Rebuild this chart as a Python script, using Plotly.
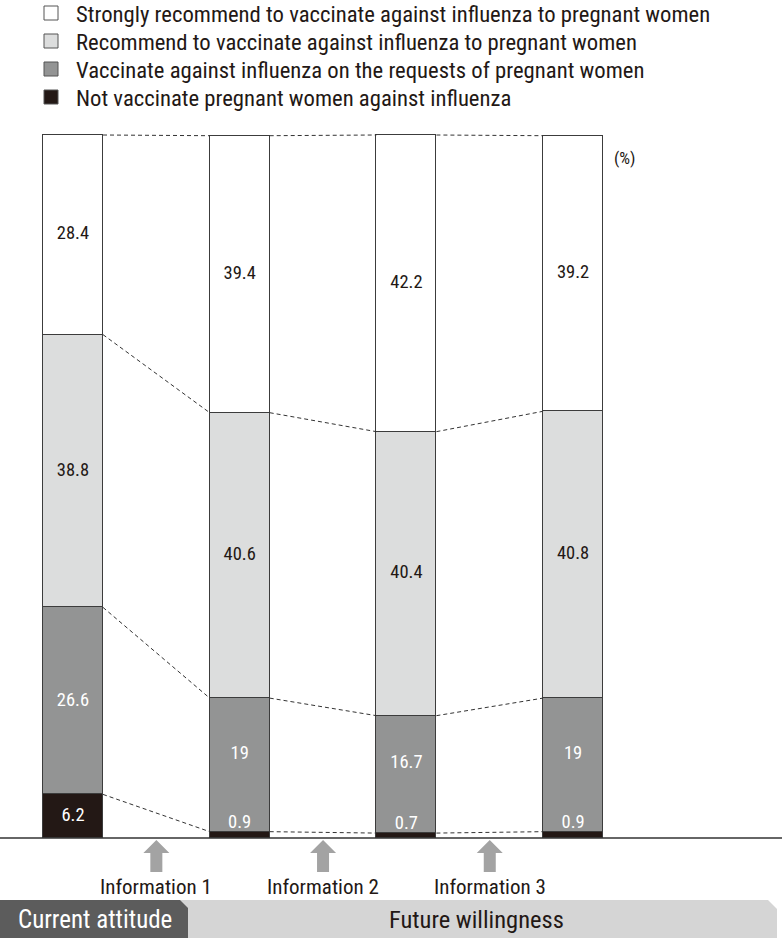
import plotly.graph_objects as go

# ---------------- data ----------------
bar_names = ["Current attitude", "After information 1", "After information 2", "After information 3"]
series_names = [
    "Not vaccinate pregnant women against influenza",
    "Vaccinate against influenza on the requests of pregnant women",
    "Recommend to vaccinate against influenza to pregnant women",
    "Strongly recommend to vaccinate against influenza to pregnant women",
]
not_vaccinate = [6.2, 0.9, 0.7, 0.9]
on_request = [26.6, 19, 16.7, 19]
recommend = [38.8, 40.6, 40.4, 40.8]
strongly = [28.4, 39.4, 42.2, 39.2]
info_labels = ["Information 1", "Information 2", "Information 3"]
stage_labels = ["Current attitude", "Future willingness"]
unit_label = "(%)"

# ---------------- style ----------------
W, H = 782, 938
FONT = "Liberation Sans Narrow, Roboto Condensed, DejaVu Sans Condensed, Arial Narrow, sans-serif"
colors = ["#231815", "#939494", "#dcdddd", "#ffffff"]
text_colors = ["#ffffff", "#ffffff", "#231815", "#231815"]
outline = "#3c3c3c"
BAR_W = 0.36
px_per_unit = 166.7
x0_px = 73
base_px = 838
top_px = 135
px_per_pct = (base_px - top_px) / 100.0

x_range = [-x0_px / px_per_unit, (W - x0_px) / px_per_unit]
y_range = [-(H - base_px) / px_per_pct, base_px / px_per_pct]

def pxx(p):
    return p / W

def pxy(p):
    return 1 - p / H

series = [not_vaccinate, on_request, recommend, strongly]
xs = list(range(len(bar_names)))

fig = go.Figure()
for name, vals, col in zip(series_names, series, colors):
    fig.add_trace(go.Bar(
        x=xs, y=vals, name=name, width=BAR_W,
        marker=dict(color=col, line=dict(color=outline, width=1)),
        hoverinfo="skip", showlegend=False,
    ))

# cumulative levels
cums = []
for i in xs:
    c = [0]
    for s in series:
        c.append(c[-1] + s[i])
    cums.append(c)

# dashed connectors between neighbouring bars
for i in range(len(xs) - 1):
    for k in range(1, len(series) + 1):
        fig.add_trace(go.Scatter(
            x=[xs[i] + BAR_W / 2, xs[i + 1] - BAR_W / 2],
            y=[cums[i][k], cums[i + 1][k]],
            mode="lines", line=dict(color="#333333", width=1, dash="4px,3px"),
            hoverinfo="skip", showlegend=False,
        ))

# value labels
for k, s in enumerate(series):
    lx, ly, lt = [], [], []
    for i in xs:
        v = s[i]
        bottom = cums[i][k]
        top = cums[i][k + 1]
        if v < 3:
            y = bottom + v + 1.2
        elif k > 0 and series[k - 1][i] < 3:
            y = (bottom + 3 + top) / 2
        else:
            y = (bottom + top) / 2
        lx.append(i)
        ly.append(y)
        lt.append(f"{v:g}")
    fig.add_trace(go.Scatter(
        x=lx, y=ly, text=lt, mode="text",
        textfont=dict(family=FONT, size=18.5, color=text_colors[k]),
        hoverinfo="skip", showlegend=False,
    ))

shapes = []
annotations = []

# baseline
shapes.append(dict(type="line", xref="paper", yref="y", x0=0, x1=1, y0=0, y1=0,
                   line=dict(color="#333333", width=1.5)))

# arrows + information labels
for j, lab in enumerate(info_labels):
    cx = xs[j] + 0.5
    hw = 13 / px_per_unit
    sw = 6 / px_per_unit
    y_tip = -2 / px_per_pct
    y_neck = -15 / px_per_pct
    y_end = -34 / px_per_pct
    path = (f"M {cx-hw} {y_neck} L {cx} {y_tip} L {cx+hw} {y_neck} L {cx+sw} {y_neck} "
            f"L {cx+sw} {y_end} L {cx-sw} {y_end} L {cx-sw} {y_neck} Z")
    shapes.append(dict(type="path", xref="x", yref="y", path=path,
                       fillcolor="#a3a3a3", line=dict(width=0)))
    annotations.append(dict(x=cx, y=-49 / px_per_pct, xref="x", yref="y", text=lab,
                            showarrow=False, font=dict(family=FONT, size=21, color="#231815"),
                            xanchor="center", yanchor="middle"))

# stage banners
light = [(180, 900), (768, 900), (777, 909), (777, 938), (180, 938)]
dark = [(0, 900), (180, 900), (188, 908), (188, 938), (0, 938)]
for poly, col in [(light, "#d5d5d5"), (dark, "#5c5c5c")]:
    path = "M " + " L ".join(f"{pxx(a)} {pxy(b)}" for a, b in poly) + " Z"
    shapes.append(dict(type="path", xref="paper", yref="paper", path=path,
                       fillcolor=col, line=dict(width=0)))
annotations.append(dict(x=pxx(95), y=pxy(919), xref="paper", yref="paper", text=stage_labels[0],
                        showarrow=False, font=dict(family=FONT, size=25, color="#ffffff"),
                        xanchor="center", yanchor="middle"))
annotations.append(dict(x=pxx(476), y=pxy(919), xref="paper", yref="paper", text=stage_labels[1],
                        showarrow=False, font=dict(family=FONT, size=24.5, color="#231815"),
                        xanchor="center", yanchor="middle"))

# unit label
annotations.append(dict(x=pxx(612), y=pxy(158), xref="paper", yref="paper", text=unit_label,
                        showarrow=False, font=dict(family=FONT, size=17, color="#231815"),
                        xanchor="left", yanchor="middle"))

# custom legend (top to bottom: strongly, recommend, request, not)
legend_rows = [13, 41, 69, 97]
for r, idx in enumerate([3, 2, 1, 0]):
    yc = legend_rows[r]
    shapes.append(dict(type="rect", xref="paper", yref="paper",
                       x0=pxx(44), x1=pxx(58), y0=pxy(yc - 7), y1=pxy(yc + 7),
                       fillcolor=colors[idx], line=dict(color="#555555", width=1)))
    annotations.append(dict(x=pxx(74), y=pxy(yc + 1.5), xref="paper", yref="paper",
                            text=series_names[idx], showarrow=False,
                            font=dict(family=FONT, size=22.7, color="#231815"),
                            xanchor="left", yanchor="middle"))

fig.update_layout(
    width=W, height=H, margin=dict(l=0, r=0, t=0, b=0),
    barmode="stack", bargap=0,
    plot_bgcolor="white", paper_bgcolor="white",
    xaxis=dict(range=x_range, visible=False, fixedrange=True),
    yaxis=dict(range=y_range, visible=False, fixedrange=True),
    shapes=shapes, annotations=annotations,
    font=dict(family=FONT),
)

fig.write_html("out.html", config={"displayModeBar": False},
               post_script="document.body.style.margin='0px';")
